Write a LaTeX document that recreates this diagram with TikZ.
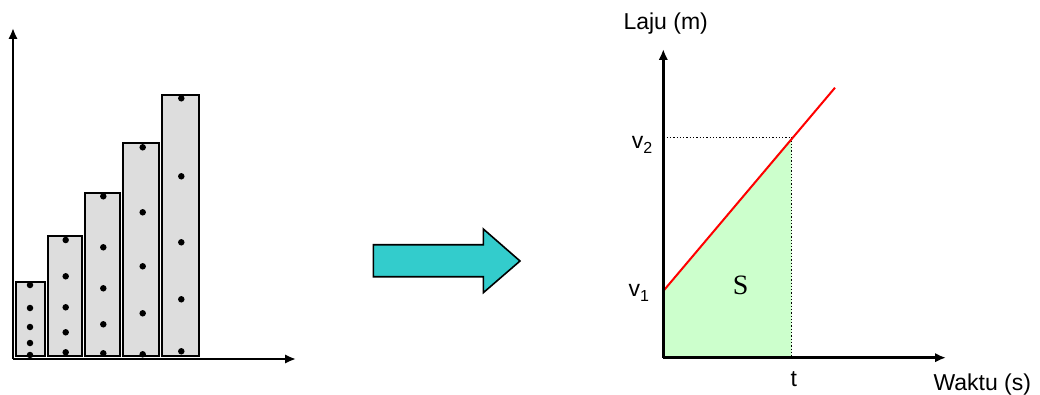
\documentclass[tikz,border=0pt]{standalone}
\usepackage{fontspec}
\setmainfont{Liberation Sans}
\newfontfamily\serifS{Liberation Serif}
\usetikzlibrary{arrows.meta}
\definecolor{barfill}{HTML}{DDDDDD}
\definecolor{arrowfill}{HTML}{33CCCC}
\definecolor{areafill}{HTML}{CCFFCC}
\tikzset{axis/.style = {->, > = {Latex[length = 11pt, width = 9.5pt]}, line width = 2.6pt}}
\tikzset{bar/.style = {draw, fill = barfill, line width = 2pt}}
\tikzset{dot/.style = {circle, fill, inner sep = 0pt, minimum size = 6.5pt}}
\tikzset{axlabel/.style = {anchor = base west, inner sep = 0pt, font = \fontsize{23}{26}\selectfont}}
\tikzset{guide/.style = {dotted, line width = 1.3pt}}
\newcommand{\vsub}[1]{v\raisebox{-0.4ex}{\fontsize{16}{18}\selectfont #1}}

\begin{document}
\begin{tikzpicture}[x = 1pt, y = -1pt]
			\useasboundingbox (0, 0) rectangle (1040, 395);

			% bar chart
			\coordinate (lo) at (13, 359);
			\coordinate (ltop) at (13, 28);
			\coordinate (lright) at (296, 359);
			\draw[bar] (15.7, 356) rectangle (45, 282);
			\draw[bar] (47.7, 356) rectangle (82, 235.7);
			\draw[bar] (85.3, 356) rectangle (120, 192.7);
			\draw[bar] (122.7, 356) rectangle (159, 143);
			\draw[bar] (161.7, 356) rectangle (199.3, 95);
			\foreach \y [count = \i] in {285, 308, 327, 343, 355}
				\node[dot] (a\i) at (30, \y) {};
			\foreach \y [count = \i] in {240, 276.3, 307.3, 332.3, 352.3}
				\node[dot] (b\i) at (65.7, \y) {};
			\foreach \y [count = \i] in {196.3, 247.3, 288.3, 324.3, 353.3}
				\node[dot] (c\i) at (103.3, \y) {};
			\foreach \y [count = \i] in {147.3, 212.3, 266.3, 313.3, 354.3}
				\node[dot] (d\i) at (142.7, \y) {};
			\foreach \y [count = \i] in {98.3, 176.3, 242.3, 299.3, 351.3}
				\node[dot] (e\i) at (181.3, \y) {};
			\draw[axis] (lo) -- (ltop);
			\draw[axis] (lo) -- (lright);

			% block arrow
			\draw[fill = arrowfill, line width = 1.6pt] (373.3, 244.7) -- (483.3, 244.7) -- (483.3, 229)
				-- (520, 261) -- (483.3, 292.7) -- (483.3, 276.7) -- (373.3, 276.7) -- cycle;

			% speed-time graph
			\coordinate (ro) at (663.3, 357.7);
			\coordinate (rtop) at (663.3, 49);
			\coordinate (rright) at (946, 357.7);
			\coordinate (p1) at (663.3, 291);
			\coordinate (p2) at (791.7, 137.3);
			\coordinate (pend) at (835, 87.7);
			\coordinate (tfoot) at (791.7, 357.7);
			\coordinate (v2axis) at (663.3, 137.3);
			\fill[areafill] (p1) -- (p2) -- (tfoot) -- (ro) -- cycle;
			\draw[guide] (v2axis) -- (p2);
			\draw[guide] (p2) -- (tfoot);
			\draw[red, line width = 2pt] (p1) -- (pend);
			\draw[axis] (ro) -- (rtop);
			\draw[axis] (ro) -- (rright);

			\node[axlabel] (laju) at (623.3, 29.3) {Laju (m)};
			\node[axlabel] (waktu) at (933.3, 390) {Waktu (s)};
			\node[axlabel] (tlab) at (790.5, 386.7) {t};
			\node[axlabel] (v2lab) at (631.7, 148.3) {\vsub{2}};
			\node[axlabel] (v1lab) at (628.3, 296.7) {\vsub{1}};
			\node[anchor = base west, inner sep = 0pt, font = \serifS\fontsize{28}{30}\selectfont] (slab) at (732.7, 294.3) {S};
		\end{tikzpicture}
\end{document}
